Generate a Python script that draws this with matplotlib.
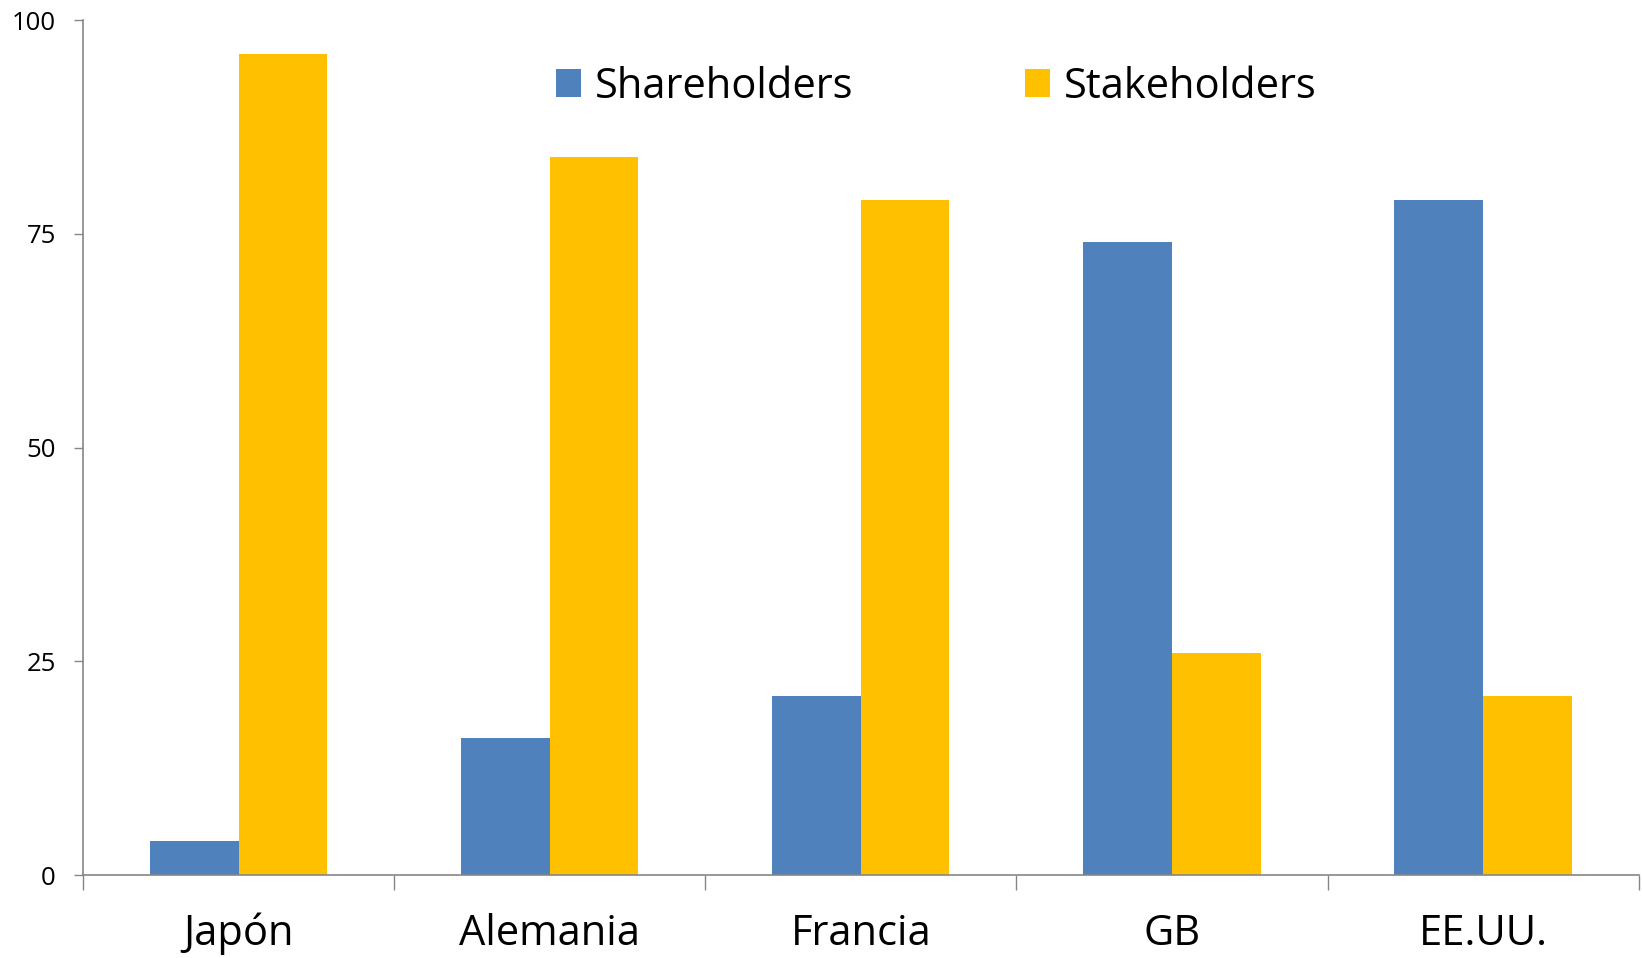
import numpy as np
import matplotlib
matplotlib.use('Agg')
import matplotlib.pyplot as plt
from matplotlib.ticker import FixedLocator

#== Data ==#
paises = ['Japón', 'Alemania', 'Francia', 'GB', 'EE.UU.']
shareholders = [4, 16, 21, 74, 79]
stakeholders = [96, 84, 79, 26, 21]
y_ticks = [0, 25, 50, 75, 100]

plt.rcParams['font.family'] = ['Open Sans', 'DejaVu Sans']

azul = '#4F81BD'
amarillo = '#FFC000'
gris = '#868686'

fig = plt.figure(figsize=(16.42, 9.58), dpi=100)
ax = fig.add_axes([0.0505, 0.0865, 0.9475, 0.8925])

x = np.arange(len(paises))
w = 0.285
ax.bar(x - w / 2, shareholders, width=w, color=azul, label='Shareholders')
ax.bar(x + w / 2, stakeholders, width=w, color=amarillo, label='Stakeholders')

ax.set_xlim(-0.5, len(paises) - 0.5)
ax.set_ylim(0, 100)
ax.set_yticks(y_ticks)
ax.set_yticklabels([str(v) for v in y_ticks], fontsize=18.5)

ax.set_xticks(x)
ax.set_xticklabels(paises, fontsize=30)
ax.xaxis.set_minor_locator(FixedLocator(np.arange(-0.5, len(paises), 1.0)))
ax.tick_params(axis='x', which='major', length=0, pad=27)
ax.tick_params(axis='x', which='minor', length=11, width=1, color=gris)
ax.tick_params(axis='y', length=6.5, width=1, color=gris, pad=13)

for s in ['top', 'right']:
    ax.spines[s].set_visible(False)
for s in ['left', 'bottom']:
    ax.spines[s].set_color(gris)
    ax.spines[s].set_linewidth(1.2)

ax.legend(loc='center', bbox_to_anchor=(0.5485, 0.922), ncol=2, frameon=False,
          fontsize=30, handlelength=0.6, handleheight=0.65, handletextpad=0.34,
          columnspacing=4.1, borderpad=0)

fig.savefig('out.png', dpi=100)
